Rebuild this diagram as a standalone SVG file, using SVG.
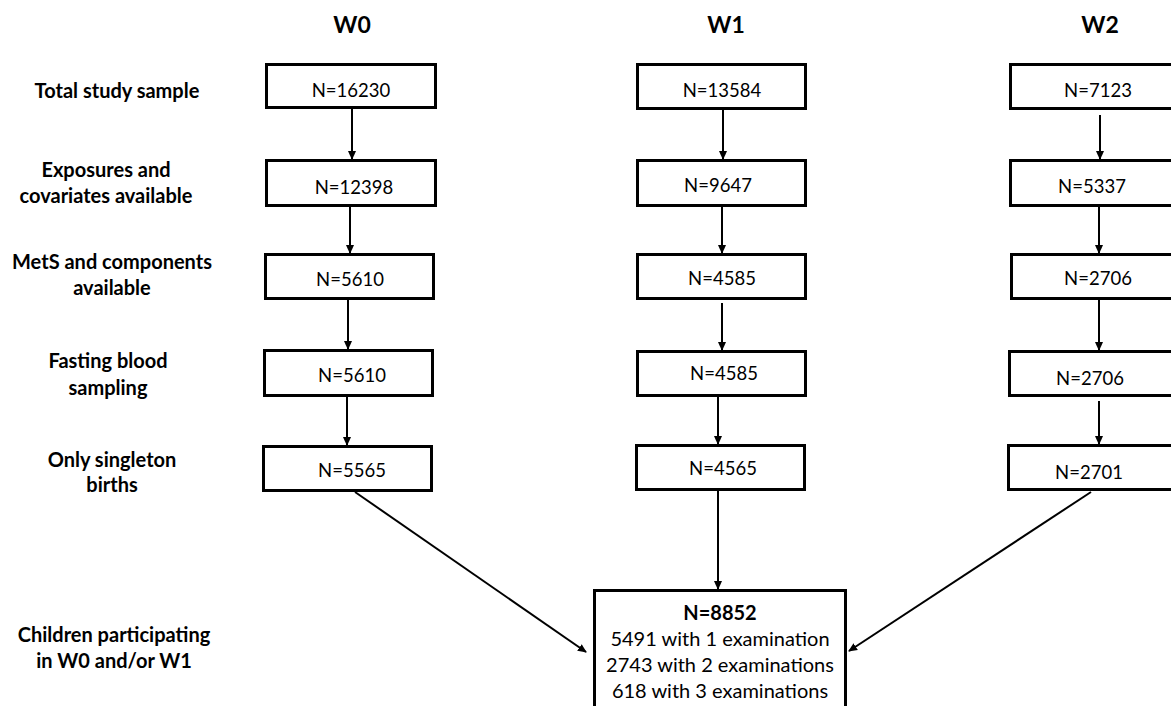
<svg xmlns="http://www.w3.org/2000/svg" width="1171" height="706" viewBox="0 0 1171 706">
<style>
.box{fill:#fff;stroke:#000;stroke-width:3}
.n{font-family:Lato,"Open Sans",sans-serif;font-size:18.5px;text-anchor:middle;fill:#000}
.m{font-family:Lato,"Open Sans",sans-serif;font-size:20px;text-anchor:middle;fill:#000}
.lbl{font-family:Lato,"Open Sans",sans-serif;font-size:20px;font-weight:bold;text-anchor:middle;fill:#000}
.ttl{font-family:Lato,"Open Sans",sans-serif;font-size:23px;font-weight:bold;text-anchor:middle;fill:#000}
.c{stroke:#000;stroke-width:2;fill:none;marker-end:url(#arr)}
</style>
<defs>
<marker id="arr" markerUnits="userSpaceOnUse" markerWidth="9" markerHeight="9" refX="8" refY="4" orient="auto" viewBox="0 0 9 8"><path d="M0,0 L9,4 L0,8 z" fill="#000"/></marker>
</defs>
<rect width="1171" height="706" fill="#fff"/>
<g id="titles">
<text class="ttl" x="352" y="33">W0</text>
<text class="ttl" x="726" y="33">W1</text>
<text class="ttl" x="1100" y="33">W2</text>
</g>
<g id="labels">
<text class="lbl" x="117" y="98">Total study sample</text>
<text class="lbl" x="106" y="177">Exposures and</text>
<text class="lbl" x="106" y="203">covariates available</text>
<text class="lbl" x="112" y="269">MetS and components</text>
<text class="lbl" x="112" y="295">available</text>
<text class="lbl" x="108" y="368">Fasting blood</text>
<text class="lbl" x="108" y="395">sampling</text>
<text class="lbl" x="112" y="467">Only singleton</text>
<text class="lbl" x="112" y="492">births</text>
<text class="lbl" x="114" y="642">Children participating</text>
<text class="lbl" x="114" y="668">in W0 and/or W1</text>
</g>
<g id="connectors">
<line class="c" x1="352" y1="108" x2="352" y2="159"/>
<line class="c" x1="350" y1="207" x2="350" y2="253"/>
<line class="c" x1="348" y1="300" x2="348" y2="349"/>
<line class="c" x1="347" y1="397" x2="347" y2="445"/>
<line class="c" x1="723" y1="110" x2="723" y2="159"/>
<line class="c" x1="722" y1="207" x2="722" y2="253"/>
<line class="c" x1="722" y1="303" x2="722" y2="350"/>
<line class="c" x1="718" y1="397" x2="718" y2="444"/>
<line class="c" x1="1100" y1="115" x2="1100" y2="159"/>
<line class="c" x1="1099" y1="207" x2="1099" y2="253"/>
<line class="c" x1="1099" y1="300" x2="1099" y2="350"/>
<line class="c" x1="1099" y1="401" x2="1099" y2="444"/>
<line class="c" x1="718" y1="491" x2="718" y2="589"/>
<line class="c" x1="355" y1="492" x2="586" y2="652"/>
<line class="c" x1="1091" y1="492" x2="849" y2="651"/>
</g>
<g id="w0-1"><rect class="box" x="266.5" y="64.5" width="169" height="43"/><text class="n" x="351" y="97">N=16230</text></g>
<g id="w0-2"><rect class="box" x="266.5" y="160.5" width="169" height="45"/><text class="n" x="354" y="194">N=12398</text></g>
<g id="w0-3"><rect class="box" x="265.5" y="254.5" width="168" height="44"/><text class="n" x="350" y="286">N=5610</text></g>
<g id="w0-4"><rect class="box" x="264.5" y="350.5" width="168" height="45"/><text class="n" x="352" y="382">N=5610</text></g>
<g id="w0-5"><rect class="box" x="263.5" y="446.5" width="168" height="44"/><text class="n" x="352" y="477">N=5565</text></g>
<g id="w1-1"><rect class="box" x="637.5" y="64.5" width="168" height="44"/><text class="n" x="722" y="97">N=13584</text></g>
<g id="w1-2"><rect class="box" x="637.5" y="160.5" width="168" height="45"/><text class="n" x="718" y="192">N=9647</text></g>
<g id="w1-3"><rect class="box" x="637.5" y="254.5" width="168" height="44"/><text class="n" x="722" y="285">N=4585</text></g>
<g id="w1-4"><rect class="box" x="637.5" y="351.5" width="168" height="44"/><text class="n" x="724" y="380">N=4585</text></g>
<g id="w1-5"><rect class="box" x="636.5" y="445.5" width="168" height="44"/><text class="n" x="723" y="475">N=4565</text></g>
<g id="w2-1"><rect class="box" x="1010.5" y="64.5" width="180" height="44"/><text class="n" x="1098" y="97">N=7123</text></g>
<g id="w2-2"><rect class="box" x="1010.5" y="160.5" width="180" height="45"/><text class="n" x="1092" y="193">N=5337</text></g>
<g id="w2-3"><rect class="box" x="1011.5" y="254.5" width="180" height="44"/><text class="n" x="1098" y="285">N=2706</text></g>
<g id="w2-4"><rect class="box" x="1009.5" y="351.5" width="180" height="44"/><text class="n" x="1090" y="385">N=2706</text></g>
<g id="w2-5"><rect class="box" x="1008.5" y="445.5" width="180" height="44"/><text class="n" x="1089" y="479">N=2701</text></g>
<g id="total"><rect class="box" x="594.5" y="590.5" width="251" height="130"/>
<text class="m" x="720" y="620" font-weight="bold">N=8852</text>
<text class="m" x="720" y="646">5491 with 1 examination</text>
<text class="m" x="720" y="672">2743 with 2 examinations</text>
<text class="m" x="720" y="698">618 with 3 examinations</text>
</g>
</svg>
